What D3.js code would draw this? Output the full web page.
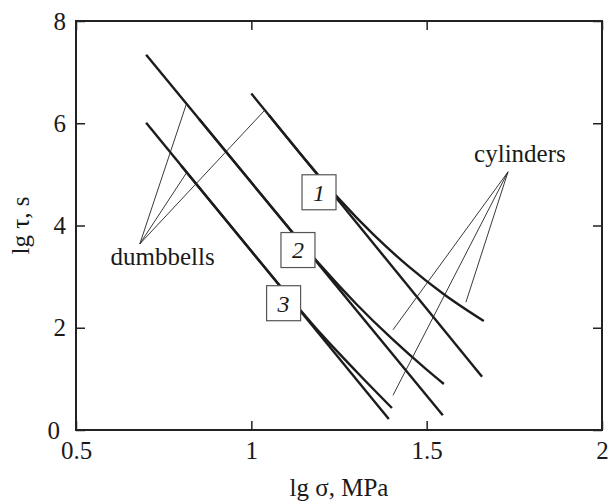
<!DOCTYPE html>
<html>
<head>
<meta charset="utf-8">
<script src="https://cdn.jsdelivr.net/npm/d3@7"></script>
<style>
  body { margin: 0; background: #fff; }
  svg { display: block; }
  text { font-family: "Liberation Serif", "Times New Roman", serif; fill: #1a1a1a; }
  .axis path { display: none; }
  .axis line { stroke: #222; stroke-width: 1.5; }
  .axis text { font-size: 25px; }
  .curve { fill: none; stroke: #1c1c1c; stroke-width: 2.4; }
  .pointer { stroke: #222; stroke-width: 0.9; }
</style>
</head>
<body>
<div id="chart"></div>
<script>
// tick values
var xTicks = [0.5, 1, 1.5, 2];
var yTicks = [0, 2, 4, 6, 8];

// straight lines (dumbbells), [lg sigma, lg tau]
var dumbbell1 = [[1.00, 6.58], [1.658, 1.04]];
var dumbbell2 = [[0.70, 7.34], [1.546, 0.29]];
var dumbbell3 = [[0.70, 6.01], [1.392, 0.215]];

// bent lines (cylinders)
var cylinder1 = [[1.05, 6.16], [1.15, 5.32], [1.25, 4.52], [1.35, 3.81], [1.45, 3.19], [1.55, 2.65], [1.663, 2.13]];
var cylinder2 = [[0.85, 6.09], [1.0, 4.84], [1.1, 4.01], [1.2, 3.20], [1.3, 2.46], [1.4, 1.79], [1.5, 1.18], [1.549, 0.90]];
var cylinder3 = [[0.80, 5.17], [1.0, 3.50], [1.1, 2.67], [1.2, 1.87], [1.3, 1.14], [1.401, 0.43]];

// numbered boxes
var boxLabels = ["1", "2", "3"];
var boxX = [1.193, 1.133, 1.092];
var boxY = [4.65, 3.52, 2.48];

// annotations
var dumbbellText = { label: "dumbbells", x: 0.747, y: 3.23 };
var dumbbellAnchor = [0.682, 3.64];
var dumbbellTargets = [[0.814, 6.36], [0.817, 5.05], [1.039, 6.26]];
var cylinderText = { label: "cylinders", x: 1.766, y: 5.24 };
var cylinderAnchor = [1.732, 5.05];
var cylinderTargets = [[1.404, 1.96], [1.404, 0.68], [1.612, 2.50]];

var _font = '"Liberation Serif", "Times New Roman", serif';
var _outer = { width: 609, height: 502 };
var _margin = { top: 21, right: 7, bottom: 72, left: 76 };
var _inner = {
	width: _outer.width - _margin.left - _margin.right,
	height: _outer.height - _margin.top - _margin.bottom };

var x = d3.scaleLinear().domain([0.5, 2]).range([0, _inner.width]);
var y = d3.scaleLinear().domain([0, 8]).range([_inner.height, 0]);

var svg = d3.select("#chart").append("svg")
	.attr("width", _outer.width)
	.attr("height", _outer.height);

var g = svg.append("g")
	.attr("transform", "translate(" + _margin.left + "," + _margin.top + ")");

// axes, ticks pointing inward
g.append("g").attr("class", "axis")
	.attr("transform", "translate(0," + _inner.height + ")")
	.call(d3.axisBottom(x).tickValues(xTicks).tickSize(-9).tickPadding(11)
		.tickFormat(function(d) { return d; }));
var yAxisG = g.append("g").attr("class", "axis")
	.call(d3.axisLeft(y).tickValues(yTicks).tickSize(-9).tickPadding(10));
// keep the "0" clear of the "0.5" below it
yAxisG.selectAll(".tick text").filter(function(d) { return d === 0; })
	.attr("dx", -6);
g.append("g").attr("class", "axis")
	.call(d3.axisTop(x).tickValues(xTicks).tickSize(-9).tickFormat(""));
g.append("g").attr("class", "axis")
	.attr("transform", "translate(" + _inner.width + ",0)")
	.call(d3.axisRight(y).tickValues(yTicks).tickSize(-9).tickFormat(""));

g.selectAll(".axis").attr("font-family", _font);

g.append("rect")
	.attr("width", _inner.width)
	.attr("height", _inner.height)
	.attr("fill", "none")
	.attr("stroke", "#222")
	.attr("stroke-width", 2);

// axis titles
svg.append("text")
	.attr("x", _margin.left + _inner.width / 2)
	.attr("y", 496)
	.attr("text-anchor", "middle")
	.style("font-family", _font)
	.style("font-size", "25px")
	.text("lg σ, MPa");
svg.append("text")
	.attr("transform", "translate(29," + (_margin.top + _inner.height / 2) + ") rotate(-90)")
	.attr("text-anchor", "middle")
	.style("font-family", _font)
	.style("font-size", "25px")
	.text("lg τ, s");

// lines
var line = d3.line()
	.x(function(d) { return x(d[0]); })
	.y(function(d) { return y(d[1]); })
	.curve(d3.curveMonotoneX);

g.append("g").selectAll("path")
	.data([dumbbell1, dumbbell2, dumbbell3, cylinder1, cylinder2, cylinder3])
	.enter().append("path")
	.attr("class", "curve")
	.attr("d", line);

// pointers
function pointers(anchor, targets) {
	g.append("g").selectAll("line")
		.data(targets)
		.enter().append("line")
		.attr("class", "pointer")
		.attr("x1", x(anchor[0])).attr("y1", y(anchor[1]))
		.attr("x2", function(d) { return x(d[0]); })
		.attr("y2", function(d) { return y(d[1]); });
}
pointers(dumbbellAnchor, dumbbellTargets);
pointers(cylinderAnchor, cylinderTargets);

[dumbbellText, cylinderText].forEach(function(t) {
	g.append("text")
		.attr("x", x(t.x)).attr("y", y(t.y))
		.attr("text-anchor", "middle")
		.style("font-family", _font)
		.style("font-size", "25px")
		.text(t.label);
});

// numbered boxes
var boxes = g.append("g").selectAll("g")
	.data(boxLabels)
	.enter().append("g")
	.attr("transform", function(d, i) { return "translate(" + x(boxX[i]) + "," + y(boxY[i]) + ")"; });
boxes.append("rect")
	.attr("x", -17).attr("y", -17.5)
	.attr("width", 34).attr("height", 35)
	.attr("fill", "#fff")
	.attr("stroke", "#555")
	.attr("stroke-width", 1.2);
boxes.append("text")
	.attr("text-anchor", "middle")
	.attr("dy", "0.35em")
	.style("font-family", _font)
	.style("font-size", "24px")
	.style("font-style", "italic")
	.text(function(d) { return d; });
</script>
</body>
</html>
